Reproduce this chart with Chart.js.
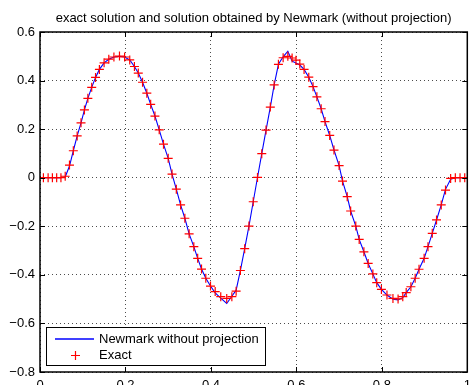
<!DOCTYPE html>
<html>
<head>
<meta charset="utf-8">
<script src="https://cdn.jsdelivr.net/npm/chart.js@4.4.1/dist/chart.umd.min.js"></script>
<style>
  html, body { margin: 0; padding: 0; background: #fff; }
  #plot { display: block; }
</style>
</head>
<body>
<canvas id="plot" width="473" height="385"></canvas>
<script>
// Exact solution: node positions and values
const exactX = [
  0.008, 0.019, 0.029, 0.039, 0.049, 0.059, 0.069, 0.078, 0.087, 0.096,
  0.104, 0.112, 0.121, 0.130, 0.139, 0.150, 0.161, 0.173, 0.186, 0.198,
  0.210, 0.221, 0.230, 0.240, 0.250, 0.259, 0.269, 0.279, 0.289, 0.300,
  0.309, 0.319, 0.329, 0.339, 0.349, 0.360, 0.369, 0.378, 0.388, 0.399,
  0.410, 0.423, 0.437, 0.449, 0.459, 0.469, 0.479, 0.489, 0.499, 0.509,
  0.519, 0.529, 0.539, 0.548, 0.558, 0.569, 0.580, 0.590, 0.599, 0.608,
  0.618, 0.629, 0.639, 0.648, 0.658, 0.667, 0.678, 0.688, 0.700, 0.708,
  0.719, 0.727, 0.739, 0.747, 0.758, 0.768, 0.779, 0.788, 0.799, 0.812,
  0.826, 0.838, 0.849, 0.857, 0.868, 0.878, 0.887, 0.899, 0.908, 0.918,
  0.928, 0.939, 0.949, 0.961, 0.972, 0.983, 0.994
];
const exactY = [
  0, 0, 0, 0, 0, 0.006, 0.052, 0.111, 0.172, 0.226,
  0.279, 0.327, 0.372, 0.413, 0.446, 0.473, 0.488, 0.497, 0.501, 0.497,
  0.485, 0.458, 0.431, 0.393, 0.348, 0.302, 0.254, 0.197, 0.138, 0.080,
  0.015, -0.047, -0.112, -0.167, -0.231, -0.284, -0.332, -0.376, -0.414, -0.446,
  -0.469, -0.490, -0.497, -0.490, -0.467, -0.382, -0.292, -0.199, -0.099, 0.001,
  0.099, 0.196, 0.291, 0.382, 0.467, 0.494, 0.500, 0.493, 0.484, 0.468,
  0.446, 0.414, 0.375, 0.333, 0.284, 0.231, 0.174, 0.114, 0.050, -0.014,
  -0.078, -0.137, -0.199, -0.254, -0.305, -0.353, -0.396, -0.432, -0.460, -0.483,
  -0.497, -0.499, -0.490, -0.473, -0.449, -0.414, -0.377, -0.332, -0.284, -0.229,
  -0.174, -0.112, -0.051, -0.003, 0, 0, 0
];

// Newmark solution (without projection)
const newmarkX = [0].concat(exactX, [1]);
const newmarkY = [
  0,
  0, 0, 0, 0, 0, 0.003, 0.048, 0.111, 0.172, 0.226,
  0.279, 0.327, 0.372, 0.413, 0.446, 0.473, 0.488, 0.497, 0.500, 0.497,
  0.485, 0.458, 0.431, 0.393, 0.348, 0.302, 0.254, 0.197, 0.138, 0.080,
  0.015, -0.047, -0.112, -0.167, -0.231, -0.284, -0.332, -0.376, -0.414, -0.446,
  -0.474, -0.496, -0.518, -0.488, -0.463, -0.382, -0.292, -0.199, -0.099, 0.001,
  0.099, 0.196, 0.291, 0.382, 0.467, 0.498, 0.521, 0.480, 0.472, 0.464,
  0.446, 0.414, 0.375, 0.333, 0.284, 0.231, 0.174, 0.114, 0.050, -0.014,
  -0.078, -0.137, -0.199, -0.254, -0.305, -0.353, -0.396, -0.432, -0.460, -0.483,
  -0.500, -0.503, -0.494, -0.473, -0.449, -0.414, -0.377, -0.332, -0.284, -0.229,
  -0.174, -0.112, -0.048, -0.006, 0, 0, 0,
  0
];

const xTicks = [0, 0.2, 0.4, 0.6, 0.8, 1];
const yTicks = [-0.8, -0.6, -0.4, -0.2, 0, 0.2, 0.4, 0.6];

const titleText = "exact solution and solution obtained by Newmark (without projection)";
const FONT = "'Liberation Sans', Arial, Helvetica, sans-serif";

function fmt(v) {
  const r = Math.round(v * 10) / 10;
  if (r === 0) return "0";
  return (r < 0 ? "\u2212" : "") + String(Math.abs(r));
}

function toPoints(xs, ys) {
  return xs.map((x, i) => ({ x: x, y: ys[i] }));
}

// Title centred over the axes, box, inward ticks and the legend, MATLAB-style
const matlabFrame = {
  id: "matlabFrame",
  afterDraw(chart) {
    const ctx = chart.ctx;
    const a = chart.chartArea;
    const sx = chart.scales.x, sy = chart.scales.y;
    ctx.save();

    ctx.fillStyle = "#000";
    ctx.font = "13px " + FONT;
    ctx.textAlign = "center";
    ctx.textBaseline = "middle";
    ctx.fillText(titleText, (a.left + a.right) / 2, 18.5);

    ctx.strokeStyle = "#000";
    ctx.lineWidth = 1;
    ctx.beginPath();
    xTicks.forEach(v => {
      const px = Math.round(sx.getPixelForValue(v)) + 0.5;
      ctx.moveTo(px, a.bottom); ctx.lineTo(px, a.bottom - 5);
      ctx.moveTo(px, a.top); ctx.lineTo(px, a.top + 5);
    });
    yTicks.forEach(v => {
      const py = Math.round(sy.getPixelForValue(v)) + 0.5;
      ctx.moveTo(a.left, py); ctx.lineTo(a.left + 5, py);
      ctx.moveTo(a.right, py); ctx.lineTo(a.right - 5, py);
    });
    ctx.stroke();

    ctx.lineWidth = 1.5;
    ctx.strokeRect(a.left, a.top, a.right - a.left, a.bottom - a.top);

    // legend
    const lx = 46.5, ly = 327.5, lw = 219, lh = 38;
    ctx.fillStyle = "#fff";
    ctx.fillRect(lx, ly, lw, lh);
    ctx.lineWidth = 1;
    ctx.strokeStyle = "#000";
    ctx.strokeRect(lx, ly, lw, lh);

    const ds = chart.data.datasets;
    ctx.strokeStyle = ds[0].borderColor;
    ctx.lineWidth = 1.3;
    ctx.beginPath();
    ctx.moveTo(55, 339); ctx.lineTo(94, 339);
    ctx.stroke();

    ctx.strokeStyle = ds[1].borderColor;
    ctx.lineWidth = 1.2;
    ctx.beginPath();
    ctx.moveTo(71, 355.5); ctx.lineTo(80, 355.5);
    ctx.moveTo(75.5, 351); ctx.lineTo(75.5, 360);
    ctx.stroke();

    ctx.fillStyle = "#000";
    ctx.font = "13px " + FONT;
    ctx.textBaseline = "middle";
    ctx.textAlign = "left";
    ctx.fillText(ds[0].label, 99, 339.5);
    ctx.fillText(ds[1].label, 99, 355.5);
    ctx.restore();
  }
};

new Chart(document.getElementById("plot"), {
  type: "scatter",
  data: {
    datasets: [
      {
        label: "Newmark without projection",
        data: toPoints(newmarkX, newmarkY),
        showLine: true,
        borderColor: "#0000ff",
        borderWidth: 1.1,
        pointRadius: 0,
        tension: 0,
        order: 2
      },
      {
        label: "Exact",
        data: toPoints(exactX, exactY),
        showLine: false,
        pointStyle: "cross",
        pointRadius: 4.5,
        borderColor: "#ff0000",
        backgroundColor: "#ff0000",
        pointBorderWidth: 1.2,
        order: 1
      }
    ]
  },
  options: {
    responsive: false,
    animation: false,
    layout: { padding: { left: 0, right: 1, top: 32, bottom: 0 } },
    plugins: {
      legend: { display: false },
      tooltip: { enabled: false },
      title: { display: false }
    },
    scales: {
      x: {
        type: "linear",
        min: 0,
        max: 1,
        afterBuildTicks: s => { s.ticks = xTicks.map(v => ({ value: v })); },
        afterFit: s => { s.height = 13; s.paddingLeft = 0; s.paddingRight = 0; },
        ticks: {
          color: "#000",
          font: { family: FONT, size: 13 },
          padding: 6,
          maxRotation: 0,
          callback: v => fmt(v)
        },
        grid: { drawTicks: false, color: "rgba(0,0,0,0.7)", lineWidth: 1 },
        border: { display: false, dash: [1, 3] }
      },
      y: {
        type: "linear",
        min: -0.8,
        max: 0.6,
        afterBuildTicks: s => { s.ticks = yTicks.map(v => ({ value: v })); },
        afterFit: s => { s.width = 40; s.paddingTop = 0; s.paddingBottom = 0; },
        ticks: {
          color: "#000",
          font: { family: FONT, size: 13 },
          padding: 5,
          callback: v => fmt(v)
        },
        grid: { drawTicks: false, color: "rgba(0,0,0,0.7)", lineWidth: 1 },
        border: { display: false, dash: [1, 3] }
      }
    }
  },
  plugins: [matlabFrame]
});
</script>
</body>
</html>
